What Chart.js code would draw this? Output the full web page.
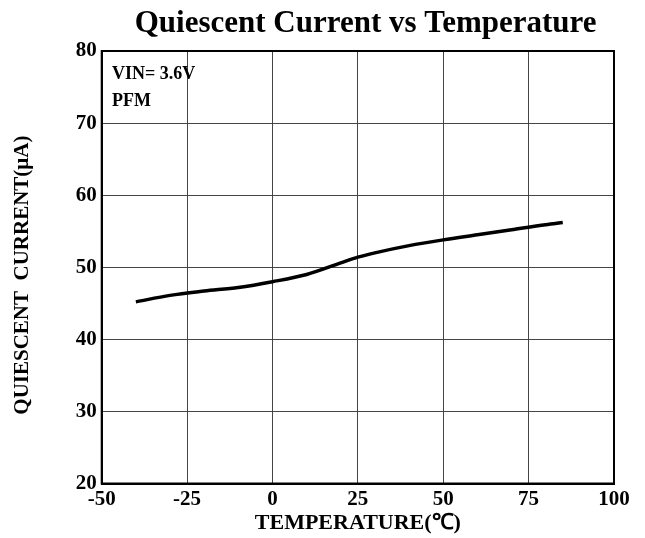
<!DOCTYPE html>
<html>
<head>
<meta charset="utf-8">
<script src="https://cdn.jsdelivr.net/npm/chart.js@4/dist/chart.umd.min.js"></script>
<style>
html,body{margin:0;padding:0;background:#fff;}
#wrap{width:645px;height:538px;}
</style>
</head>
<body>
<div id="wrap"><canvas id="c" width="645" height="538"></canvas></div>
<script>
const temperatures = [-40, -30, -20, -10, 0, 10, 20, 25, 30, 40, 50, 60, 70, 80, 85];
const currents = [45.2, 46.1, 46.7, 47.2, 48.0, 49.0, 50.6, 51.4, 52.0, 53.0, 53.8, 54.5, 55.2, 55.9, 56.2];
const xTicks = [-50, -25, 0, 25, 50, 75, 100];
const yTicks = [20, 30, 40, 50, 60, 70, 80];
const notes = ["VIN= 3.6V", "PFM"];

const SERIF = '"Liberation Serif", "Times New Roman", serif';

const frame = {
  id: 'frame',
  afterDraw(chart) {
    const {ctx, chartArea: a, scales} = chart;
    ctx.save();
    ctx.strokeStyle = '#000';
    ctx.lineWidth = 2;
    ctx.strokeRect(a.left, a.top, a.right - a.left, a.bottom - a.top);
    ctx.fillStyle = '#000';
    ctx.font = 'bold 18px ' + SERIF;
    ctx.textBaseline = 'middle';
    ctx.textAlign = 'left';
    const x = scales.x.getPixelForValue(-47);
    ctx.fillText(notes[0], x, scales.y.getPixelForValue(76.8));
    ctx.fillText(notes[1], x, scales.y.getPixelForValue(73.0));
    ctx.restore();
  }
};

new Chart(document.getElementById('c'), {
  type: 'line',
  data: {
    datasets: [{
      data: temperatures.map((t, i) => ({x: t, y: currents[i]})),
      borderColor: '#000',
      borderWidth: 3.5,
      pointRadius: 0,
      cubicInterpolationMode: 'monotone',
      fill: false
    }]
  },
  options: {
    responsive: false,
    animation: false,
    layout: {padding: {left: 0, right: 31, top: 0, bottom: 0}},
    plugins: {
      legend: {display: false},
      tooltip: {enabled: false},
      title: {
        display: true,
        text: '  Quiescent Current vs Temperature',
        fullSize: false,
        color: '#000',
        font: {family: SERIF, size: 31, weight: 'bold'},
        padding: {top: 5, bottom: 8.8}
      }
    },
    scales: {
      x: {
        type: 'linear',
        min: -50, max: 100,
        afterBuildTicks: s => { s.ticks = xTicks.map(v => ({value: v})); },
        afterFit: s => { s.height = 54.5; },
        grid: {color: '#444', lineWidth: 1, drawTicks: false},
        border: {color: '#000', width: 2},
        ticks: {color: '#000', padding: 3, maxRotation: 0, font: {family: SERIF, size: 21, weight: 'bold'}},
        title: {display: true, text: 'TEMPERATURE(℃)', color: '#000', padding: {top: 0, bottom: 1}, font: {family: SERIF, size: 22, weight: 'bold'}}
      },
      y: {
        type: 'linear',
        min: 20, max: 80,
        afterBuildTicks: s => { s.ticks = yTicks.map(v => ({value: v})); },
        afterFit: s => { s.width = 101.7; },
        grid: {color: '#444', lineWidth: 1, drawTicks: false},
        border: {color: '#000', width: 2},
        ticks: {color: '#000', padding: 5, font: {family: SERIF, size: 21, weight: 'bold'}},
        title: {display: true, text: 'QUIESCENT  CURRENT(μA)   ', color: '#000', padding: {top: 10, bottom: 0}, font: {family: SERIF, size: 21, weight: 'bold'}}
      }
    }
  },
  plugins: [frame]
});
</script>
</body>
</html>
